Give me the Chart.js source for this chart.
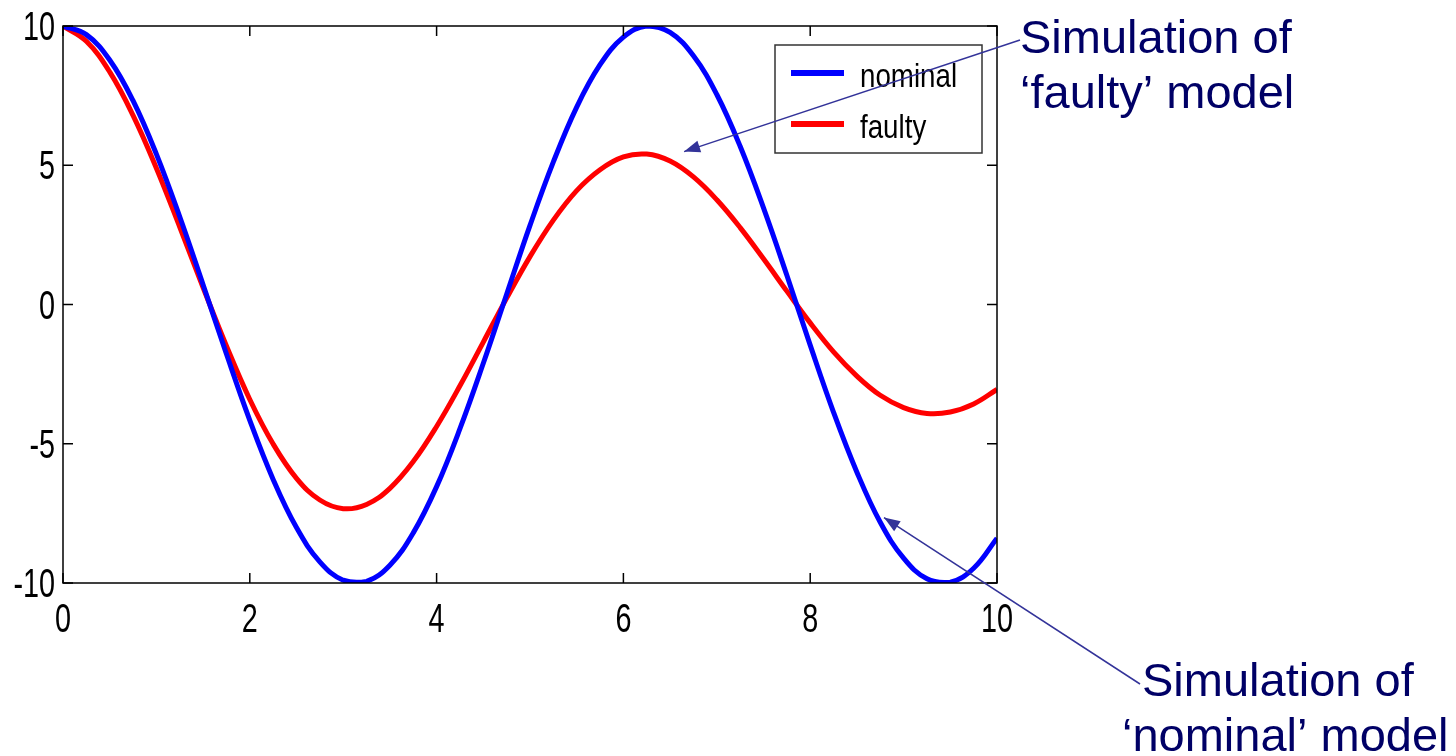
<!DOCTYPE html>
<html>
<head>
<meta charset="utf-8">
<script src="https://cdn.jsdelivr.net/npm/chart.js@4.4.0/dist/chart.umd.min.js"></script>
<style>
  html, body { margin: 0; padding: 0; background: #fff; }
  #wrap { width: 1456px; height: 756px; }
</style>
</head>
<body>
<div id="wrap"><canvas id="mycanvas"></canvas></div>
<script>
// time axis, sampled every 0.25
var xs = [0, 0.25, 0.5, 0.75, 1, 1.25, 1.5, 1.75, 2, 2.25, 2.5, 2.75, 3, 3.25, 3.5, 3.75,
          4, 4.25, 4.5, 4.75, 5, 5.25, 5.5, 5.75, 6, 6.25, 6.5, 6.75, 7, 7.25, 7.5, 7.75,
          8, 8.25, 8.5, 8.75, 9, 9.25, 9.5, 9.75, 10];

var nominal = [10, 9.69, 8.78, 7.32, 5.40, 3.15, 0.71, -1.78, -4.16, -6.28, -8.01, -9.24,
               -9.90, -9.94, -9.36, -8.20, -6.54, -4.46, -2.11, 0.37, 2.84, 5.12, 7.09, 8.61,
               9.60, 10.0, 9.77, 8.93, 7.54, 5.68, 3.47, 1.05, -1.46, -3.87, -6.02, -7.82,
               -9.11, -9.85, -9.97, -9.47, -8.39];

var faulty = [10, 9.45, 8.35, 6.79, 4.89, 2.78, 0.61, -1.49, -3.41, -5.01, -6.24, -7.02,
              -7.33, -7.18, -6.60, -5.64, -4.38, -2.92, -1.35, 0.23, 1.72, 3.03, 4.09, 4.84,
              5.30, 5.40, 5.15, 4.58, 3.76, 2.76, 1.64, 0.48, -0.66, -1.70, -2.57, -3.26,
              -3.70, -3.91, -3.86, -3.57, -3.05];

var xTicks = [0, 2, 4, 6, 8, 10];
var yTicks = [-10, -5, 0, 5, 10];

// callouts: text lines, text anchor (canvas px) and arrow tip (data coords)
var notes = [
    { lines: ['Simulation of', '\u2018faulty\u2019 model'], tx: 1020, ty: 53, dx2: 0, lx: 1020, ly: 40, tip: [6.65, 5.49] },
    { lines: ['Simulation of', '\u2018nominal\u2019 model'], tx: 1142, ty: 696, dx2: -20, lx: 1140, ly: 684, tip: [8.79, -7.65] }
];

var sansFont = '"Liberation Sans", Arial, sans-serif';

// no condensed face installed, so squeeze the regular one horizontally
function narrowText(ctx, txt, x, y, size, squeeze, align) {
    ctx.save();
    ctx.font = size + 'px ' + sansFont;
    var w = ctx.measureText(txt).width * squeeze;
    var x0 = align === 'center' ? x - w / 2 : (align === 'right' ? x - w : x);
    ctx.translate(x0, y);
    ctx.scale(squeeze, 1);
    ctx.textAlign = 'left';
    ctx.fillText(txt, 0, 0);
    ctx.restore();
}

function pts(ys) {
    var out = [];
    for (var i = 0; i < xs.length; i++) out.push({ x: xs[i], y: ys[i] });
    return out;
}

// frame, inside ticks on all four sides, legend box and callouts
var decor = {
    id: 'decor',
    afterDraw: function (chart) {
        var ctx = chart.ctx, a = chart.chartArea;
        var sx = chart.scales.x, sy = chart.scales.y;
        ctx.save();
        ctx.strokeStyle = '#000';
        ctx.lineWidth = 1.5;
        ctx.strokeRect(a.left, a.top, a.right - a.left, a.bottom - a.top);

        ctx.beginPath();
        xTicks.forEach(function (v) {
            var px = sx.getPixelForValue(v);
            ctx.moveTo(px, a.bottom); ctx.lineTo(px, a.bottom - 10);
            ctx.moveTo(px, a.top); ctx.lineTo(px, a.top + 10);
        });
        yTicks.forEach(function (v) {
            var py = sy.getPixelForValue(v);
            ctx.moveTo(a.left, py); ctx.lineTo(a.left + 10, py);
            ctx.moveTo(a.right, py); ctx.lineTo(a.right - 10, py);
        });
        ctx.stroke();

        // tick labels
        ctx.fillStyle = '#000';
        ctx.textBaseline = 'alphabetic';
        xTicks.forEach(function (v) {
            narrowText(ctx, String(v), sx.getPixelForValue(v), a.bottom + 49, 40, 0.72, 'center');
        });
        yTicks.forEach(function (v) {
            narrowText(ctx, String(v), a.left - 8, sy.getPixelForValue(v) + 14, 40, 0.72, 'right');
        });

        // legend
        var lx = 775, ly = 45, lw = 207, lh = 108;
        ctx.fillStyle = '#fff';
        ctx.fillRect(lx, ly, lw, lh);
        ctx.strokeStyle = '#333';
        ctx.lineWidth = 1.5;
        ctx.strokeRect(lx, ly, lw, lh);
        chart.data.datasets.forEach(function (ds, i) {
            var yy = ly + 28 + i * 51;
            ctx.strokeStyle = ds.borderColor;
            ctx.lineWidth = 6;
            ctx.beginPath();
            ctx.moveTo(lx + 16, yy); ctx.lineTo(lx + 69, yy);
            ctx.stroke();
            ctx.fillStyle = '#000';
            narrowText(ctx, ds.label, lx + 85, yy + 14, 33, 0.84, 'left');
        });

        // callouts
        notes.forEach(function (n) {
            var tipX = sx.getPixelForValue(n.tip[0]);
            var tipY = sy.getPixelForValue(n.tip[1]);
            ctx.strokeStyle = '#333399';
            ctx.fillStyle = '#333399';
            ctx.lineWidth = 1.5;
            ctx.beginPath();
            ctx.moveTo(n.lx, n.ly); ctx.lineTo(tipX, tipY);
            ctx.stroke();
            var ang = Math.atan2(tipY - n.ly, tipX - n.lx);
            var hl = 16, hw = 6;
            ctx.beginPath();
            ctx.moveTo(tipX, tipY);
            ctx.lineTo(tipX - hl * Math.cos(ang) + hw * Math.sin(ang), tipY - hl * Math.sin(ang) - hw * Math.cos(ang));
            ctx.lineTo(tipX - hl * Math.cos(ang) - hw * Math.sin(ang), tipY - hl * Math.sin(ang) + hw * Math.cos(ang));
            ctx.closePath();
            ctx.fill();

            ctx.fillStyle = '#000066';
            ctx.font = '47px ' + sansFont;
            ctx.textAlign = 'left';
            ctx.fillText(n.lines[0], n.tx, n.ty);
            ctx.fillText(n.lines[1], n.tx + n.dx2, n.ty + 55);
        });
        ctx.restore();
    }
};

var ctx = document.getElementById('mycanvas');

var lineChart = new Chart(ctx, {
    type: 'line',
    data: {
        datasets: [{
            label: 'nominal',
            data: pts(nominal),
            borderColor: '#0000ff',
            borderWidth: 5,
            pointRadius: 0,
            tension: 0.4,
            fill: false
        }, {
            label: 'faulty',
            data: pts(faulty),
            borderColor: '#ff0000',
            borderWidth: 5,
            pointRadius: 0,
            tension: 0.4,
            fill: false
        }]
    },
    options: {
        responsive: true,
        maintainAspectRatio: false,
        animation: false,
        events: [],
        layout: { padding: { left: 63, top: 26, right: 459, bottom: 173 } },
        plugins: { legend: { display: false }, tooltip: { enabled: false } },
        scales: {
            x: {
                type: 'linear', min: 0, max: 10,
                grid: { display: false }, border: { display: false },
                ticks: { display: false },
                afterFit: function (s) { s.height = 0; }
            },
            y: {
                type: 'linear', min: -10, max: 10,
                grid: { display: false }, border: { display: false },
                ticks: { display: false },
                afterFit: function (s) { s.width = 0; }
            }
        }
    },
    plugins: [decor]
});
</script>
</body>
</html>
